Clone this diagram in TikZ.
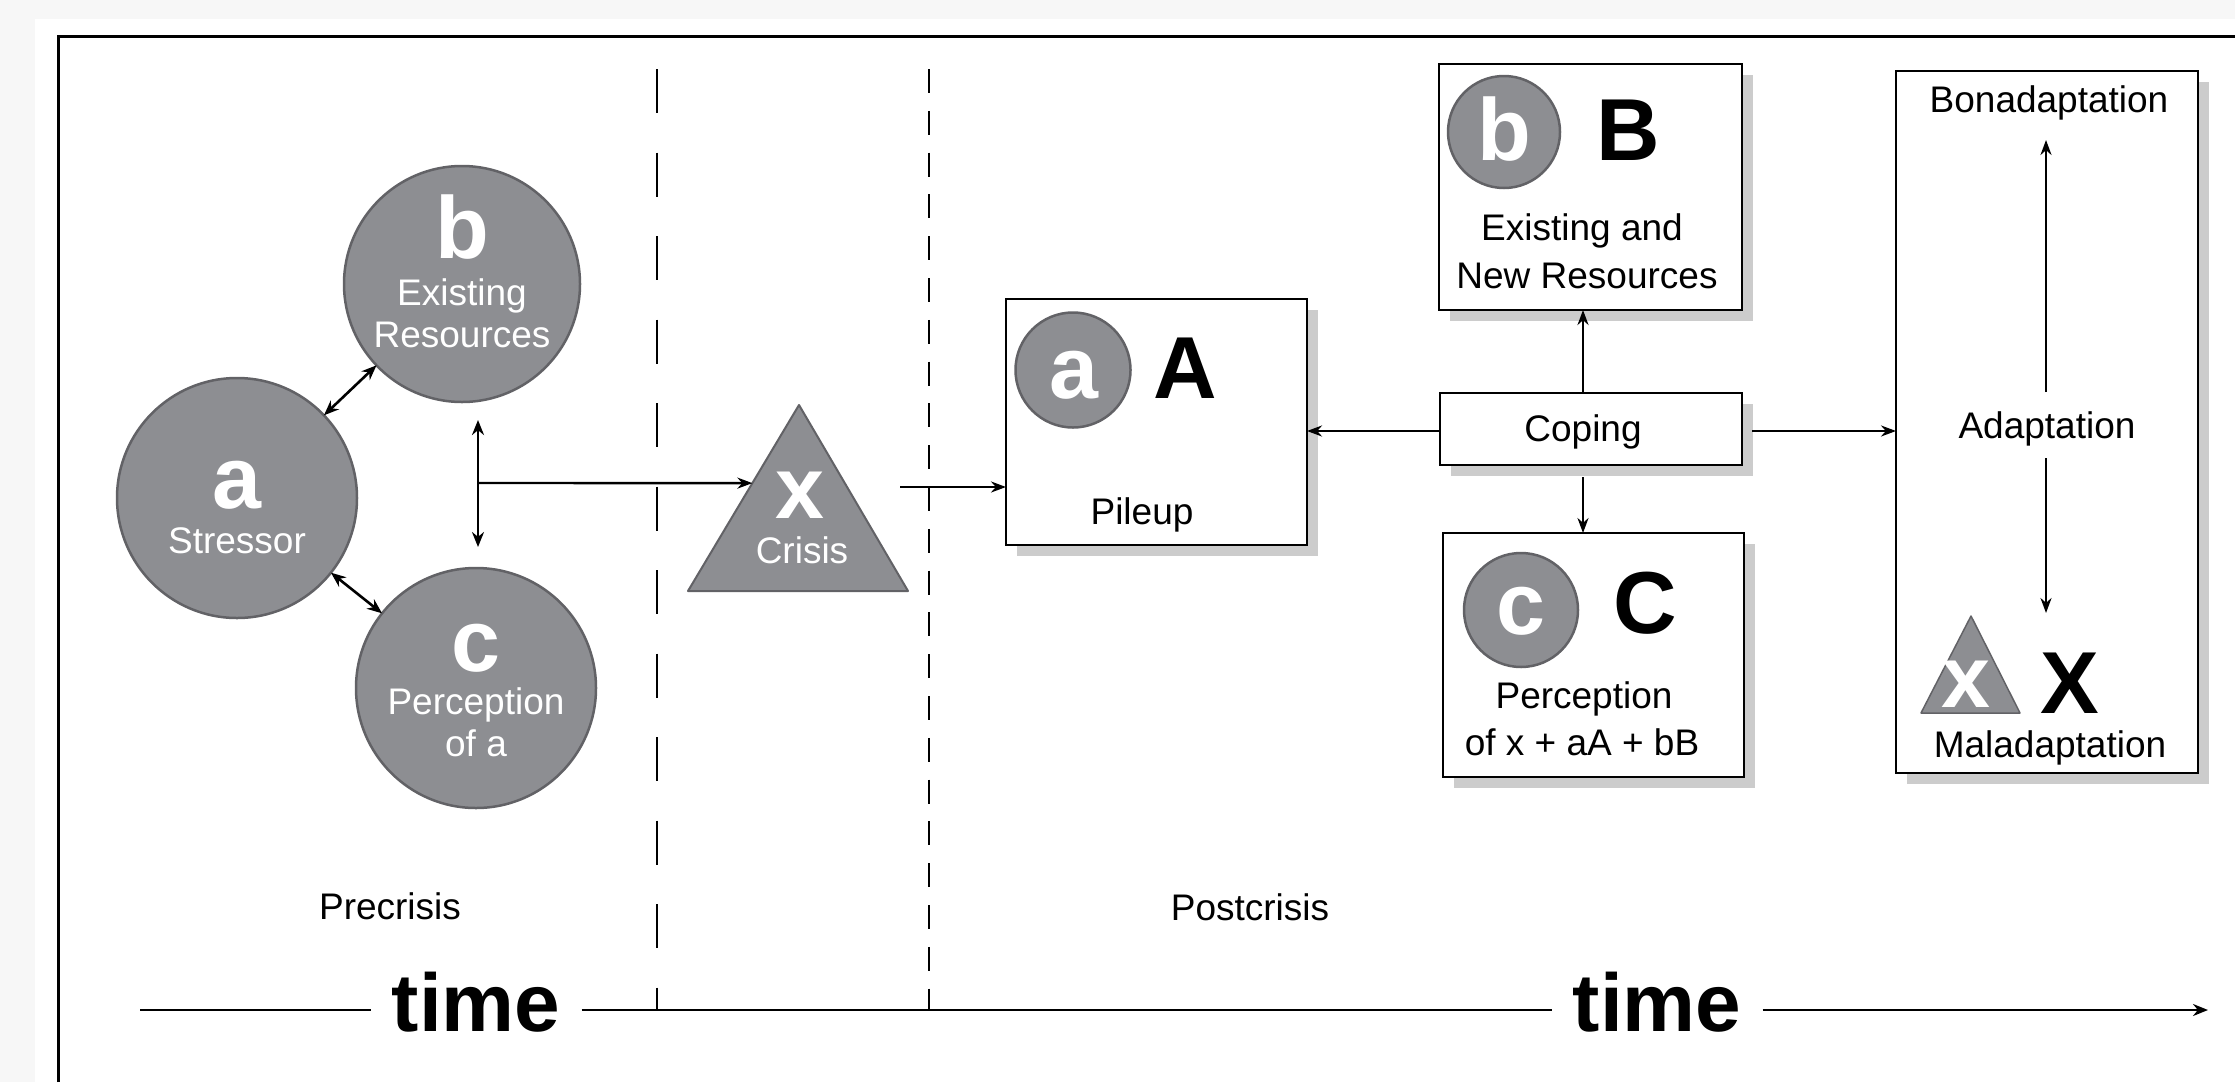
\documentclass[tikz,border=0pt]{standalone}
\usepackage{fontspec}
\setmainfont{Liberation Sans}
\usetikzlibrary{arrows.meta,calc,shadows}

\definecolor{pagegray}{RGB}{247,247,247}
\definecolor{discgray}{RGB}{141,142,146}
\definecolor{discedge}{RGB}{98,98,102}
\definecolor{shadegray}{RGB}{204,204,204}

\newcommand{\lblfont}{\fontsize{37}{42}\selectfont}
\newcommand{\letterfont}{\fontsize{88}{88}\selectfont\bfseries}
\newcommand{\timefont}{\fontsize{82}{82}\selectfont\bfseries}

\begin{document}
\begin{tikzpicture}[x=1pt,y=-1pt,
  conn/.style={line width=2.4pt,-{Stealth[length=15pt,width=11pt]}},
  biconn/.style={line width=2.6pt,{Stealth[length=15pt,width=12pt]}-{Stealth[length=15pt,width=12pt]}},
  disc/.style={circle,fill=discgray,draw=discedge,line width=2.5pt,minimum size=#1,inner sep=0pt,outer sep=0pt},
  tri/.style={fill=discgray,draw=discedge,line width=2pt,line join=round},
  box/.style={draw=black,line width=2.8pt,fill=white,inner sep=0pt,outer sep=0pt,
    drop shadow={shadow xshift=11pt,shadow yshift=-11pt,fill=shadegray,opacity=1}},
  wtxt/.style={text=white,anchor=base,inner sep=0pt,font=\lblfont},
  btxt/.style={text=black,anchor=base,inner sep=0pt,font=\lblfont},
  wbig/.style={text=white,anchor=base,inner sep=0pt,font=\letterfont},
  bbig/.style={text=black,anchor=base,inner sep=0pt,font=\letterfont},
  timelbl/.style={anchor=base,inner ysep=0pt,inner xsep=21pt,font=\timefont},
  sep1/.style={line width=2pt,dash pattern=on 44pt off 39.5pt},
  sep2/.style={line width=2pt,dash pattern=on 24pt off 17.8pt}]

\useasboundingbox (0,0) rectangle (2235,1082);
\fill[pagegray] (0,0) rectangle (2235,1082);
\fill[white] (35,19) rectangle (2235,1082);
\draw[line width=3pt] (58,1082) -- (58,36) -- (2235,36);

% period separators
\coordinate (d1top) at (657,69);
\coordinate (d1bot) at (657,1010);
\coordinate (d2top) at (929,69);
\coordinate (d2bot) at (929,1010);
\draw[sep1] (d1top) -- (d1bot);
\draw[sep2] (d2top) -- (d2bot);

% precrisis circles
\node[disc=240pt] (sa) at (237,498) {};
\node[disc=236pt] (sb) at (462,284) {};
\node[disc=240pt] (sc) at (476,688) {};
\node[wbig] at (237,508) {a};
\node[wtxt] at (237,553) {Stressor};
\node[wbig] at (462,258) {b};
\node[wtxt] at (462,305) {Existing};
\node[wtxt] at (462,347) {Resources};
\node[wbig] at (476,671) {c};
\node[wtxt] at (476,714) {Perception};
\node[wtxt] at (476,756) {of a};

\draw[biconn] (sa) -- (sb);
\draw[biconn] (sa) -- (sc);
\coordinate (bctop) at (478,420);
\coordinate (bcbot) at (478,547);
\coordinate (branch) at (478,483);
\draw[biconn] (bctop) -- (bcbot);

% crisis triangle
\coordinate (txa) at (799,405);
\coordinate (txl) at (688,591);
\coordinate (txr) at (908,591);
\draw[tri] (txa) -- (txl) -- (txr) -- cycle;
\node[wbig] at (800,518) {x};
\node[wtxt] at (802,563) {Crisis};
\coordinate (txin) at ($(txa)!0.42!(txl)$);
\draw[conn] (branch) -- (txin);

% postcrisis boxes
\node[box,minimum width=301pt,minimum height=246pt] (pa) at (1156.5,422) {};
\node[box,minimum width=303pt,minimum height=246pt] (pb) at (1590.5,187) {};
\node[box,minimum width=302pt,minimum height=72pt] (cope) at (1591,429) {};
\node[box,minimum width=301pt,minimum height=244pt] (pc) at (1593.5,655) {};
\node[box,minimum width=302pt,minimum height=702pt] (adapt) at (2047,422) {};

\coordinate (txout) at (900,487);
\draw[conn] (txout) -- (txout -| pa.west);

% pileup
\node[disc=115pt] at (1073,370) {};
\node[wbig] at (1074,398) {a};
\node[bbig] at (1185,398) {A};
\node[btxt] at (1142,524) {Pileup};

% resources
\node[disc=112pt] at (1504,132) {};
\node[wbig] at (1504,160) {b};
\node[bbig] at (1628,160) {B};
\node[btxt] at (1582,240) {Existing and};
\node[btxt] at (1587,288) {New Resources};

% coping
\node[btxt] at (1583,441) {Coping};

% perception
\node[disc=114pt] at (1521,610) {};
\node[wbig] at (1521,634) {c};
\node[bbig] at (1645,633) {C};
\node[btxt] at (1584,708) {Perception};
\node[btxt] at (1582,755) {of x + aA + bB};

% coping connectors
\coordinate (cpw) at ($(cope.west)+(0,2)$);
\draw[conn] (cpw) -- (cpw -| pa.east);
\coordinate (cpn) at ($(cope.north)+(-8,0)$);
\draw[conn] (cpn) -- (cpn |- pb.south);
\coordinate (cps) at ($(cope.south)+(-8,12)$);
\draw[conn] (cps) -- (cps |- pc.north);
\coordinate (cpe) at ($(cope.east)+(10,2)$);
\draw[conn] (cpe) -- (cpe -| adapt.west);

% adaptation outcomes
\node[btxt] at (2049,112) {Bonadaptation};
\node[btxt] at (2047,438) {Adaptation};
\coordinate (adup) at (2046,392);
\coordinate (bonad) at (2046,140);
\coordinate (addn) at (2046,458);
\coordinate (malad) at (2046,613);
\draw[conn] (adup) -- (bonad);
\draw[conn] (addn) -- (malad);
\draw[tri,line width=1.5pt] (1971,616) -- (1921,713) -- (2020,713) -- cycle;
\node[wbig] at (1966,707) {x};
\node[bbig] at (2070,713) {X};
\node[btxt] at (2050,757) {Maladaptation};

% period labels
\node[btxt] at (390,919) {Precrisis};
\node[btxt] at (1250,920) {Postcrisis};

% time axis
\node[timelbl] (time1) at (476,1031) {time};
\node[timelbl] (time2) at (1657,1031) {time};
\coordinate (tl0) at (140,1010);
\coordinate (tl1) at (2208,1010);
\draw[line width=2.8pt] (tl0) -- (tl0 -| time1.west);
\draw[line width=2.8pt] (tl0 -| time1.east) -- (tl0 -| time2.west);
\draw[line width=2.8pt,-{Stealth[length=15pt,width=12pt]}] (tl0 -| time2.east) -- (tl1);
\end{tikzpicture}
\end{document}
